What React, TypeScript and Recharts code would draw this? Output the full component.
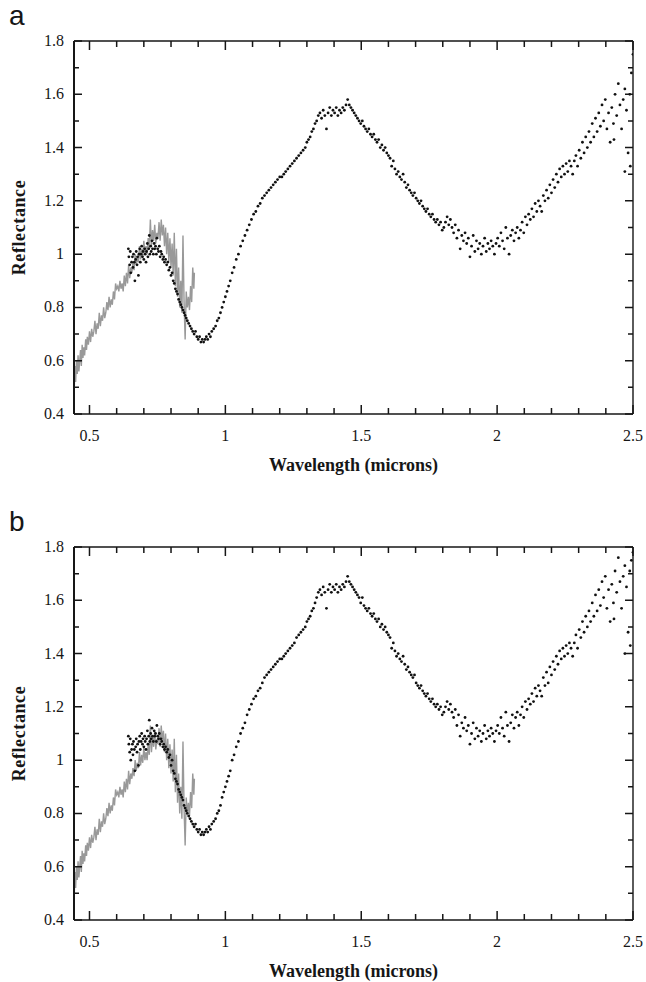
import React from 'react'
import { ComposedChart, Scatter, Line, XAxis, YAxis, ReferenceLine } from 'recharts'

// wavelength (microns) of the measured spectrum points, shared by both panels
const DOT_WAVE = [
  0.643, 0.645, 0.648, 0.65, 0.652, 0.655, 0.658, 0.66, 0.662, 0.665, 0.667, 0.67, 0.672, 0.675, 0.677, 0.68, 0.682, 0.685, 0.687, 0.69,
  0.692, 0.695, 0.697, 0.7, 0.703, 0.705, 0.708, 0.71, 0.713, 0.715, 0.718, 0.72, 0.722, 0.725, 0.727, 0.73, 0.732, 0.735, 0.738, 0.74,
  0.743, 0.746, 0.748, 0.751, 0.754, 0.757, 0.76, 0.763, 0.766, 0.77, 0.773, 0.776, 0.78, 0.784, 0.788, 0.792, 0.796, 0.8, 0.804, 0.808,
  0.812, 0.816, 0.82, 0.824, 0.828, 0.832, 0.836, 0.84, 0.844, 0.848, 0.852, 0.856, 0.86, 0.865, 0.87, 0.875, 0.88, 0.885, 0.89, 0.895,
  0.9, 0.905, 0.91, 0.915, 0.92, 0.925, 0.93, 0.935, 0.94, 0.945, 0.95, 0.957, 0.964, 0.97, 0.976, 0.982, 0.988, 0.994, 1.0, 1.006,
  1.012, 1.018, 1.025, 1.032, 1.04, 1.048, 1.056, 1.064, 1.072, 1.08, 1.088, 1.096, 1.104, 1.112, 1.12, 1.128, 1.136, 1.144, 1.152, 1.16,
  1.168, 1.176, 1.184, 1.192, 1.2, 1.208, 1.215, 1.222, 1.23, 1.238, 1.246, 1.254, 1.262, 1.27, 1.278, 1.286, 1.294, 1.3, 1.306, 1.312,
  1.318, 1.324, 1.33, 1.336, 1.342, 1.348, 1.354, 1.36, 1.366, 1.372, 1.378, 1.384, 1.39, 1.396, 1.402, 1.408, 1.414, 1.42, 1.426, 1.432,
  1.438, 1.444, 1.45, 1.456, 1.462, 1.468, 1.474, 1.48, 1.486, 1.492, 1.498, 1.504, 1.51, 1.516, 1.522, 1.528, 1.534, 1.54, 1.546, 1.552,
  1.558, 1.564, 1.57, 1.576, 1.582, 1.588, 1.594, 1.6, 1.606, 1.612, 1.618, 1.624, 1.63, 1.636, 1.642, 1.648, 1.654, 1.66, 1.666, 1.672,
  1.678, 1.684, 1.69, 1.696, 1.702, 1.708, 1.714, 1.72, 1.726, 1.732, 1.738, 1.744, 1.75, 1.756, 1.762, 1.768, 1.774, 1.78, 1.786, 1.792,
  1.798, 1.804, 1.81, 1.816, 1.822, 1.828, 1.834, 1.84, 1.846, 1.852, 1.858, 1.864, 1.87, 1.876, 1.882, 1.888, 1.894, 1.9, 1.906, 1.912,
  1.918, 1.924, 1.93, 1.936, 1.942, 1.948, 1.954, 1.96, 1.966, 1.972, 1.978, 1.984, 1.99, 1.996, 2.002, 2.008, 2.014, 2.02, 2.026, 2.032,
  2.038, 2.044, 2.05, 2.056, 2.062, 2.068, 2.074, 2.08, 2.086, 2.092, 2.098, 2.104, 2.11, 2.116, 2.122, 2.128, 2.134, 2.14, 2.146, 2.152,
  2.158, 2.164, 2.17, 2.176, 2.182, 2.188, 2.194, 2.2, 2.206, 2.212, 2.218, 2.224, 2.23, 2.236, 2.242, 2.248, 2.254, 2.26, 2.266, 2.272,
  2.278, 2.284, 2.29, 2.296, 2.302, 2.308, 2.314, 2.32, 2.326, 2.332, 2.338, 2.344, 2.35, 2.356, 2.362, 2.368, 2.374, 2.38, 2.386, 2.392,
  2.398, 2.404, 2.41, 2.416, 2.422, 2.428, 2.434, 2.44, 2.446, 2.452, 2.458, 2.464, 2.47, 2.476, 2.482, 2.488, 2.494, 2.5, 2.49, 2.47,
  2.43,
]

// panel a reflectance
const REFL_A = [
  1.02, 0.99, 0.96, 1.01, 0.93, 0.97, 0.99, 0.95, 1.0, 0.97, 0.9, 0.98, 1.01, 0.96, 0.99, 0.92, 1.0, 1.02, 0.97, 1.0,
  1.03, 0.99, 1.01, 0.98, 1.02, 1.0, 0.97, 1.01, 1.04, 0.99, 1.02, 1.07, 1.0, 1.03, 1.01, 1.05, 1.02, 1.0, 1.04, 1.02,
  1.03, 1.0, 1.06, 1.02, 1.01, 1.03, 0.99, 1.01, 1.0, 0.98, 0.99, 0.97, 0.98, 0.96, 0.97, 0.94, 0.95, 0.92, 0.93, 0.9,
  0.89, 0.87, 0.86, 0.85, 0.83, 0.82, 0.81, 0.8, 0.79, 0.78, 0.77, 0.76, 0.75, 0.74, 0.73, 0.72, 0.71, 0.7, 0.71, 0.69,
  0.68, 0.69, 0.67, 0.68, 0.67, 0.68, 0.69, 0.68, 0.7, 0.69, 0.71, 0.72, 0.73, 0.75, 0.76, 0.78, 0.8, 0.82, 0.84, 0.86,
  0.88, 0.9, 0.93, 0.95, 0.98, 1.0, 1.03, 1.05, 1.07, 1.09, 1.11, 1.13, 1.15, 1.16, 1.18, 1.19, 1.21, 1.22, 1.23, 1.24,
  1.25, 1.26, 1.27, 1.28, 1.29, 1.29, 1.3, 1.31, 1.32, 1.33, 1.34, 1.35, 1.36, 1.37, 1.38, 1.39, 1.4, 1.42, 1.43, 1.44,
  1.46, 1.47, 1.49, 1.5, 1.52, 1.53, 1.51, 1.54, 1.52, 1.47, 1.53, 1.55, 1.52, 1.54, 1.53, 1.55, 1.52, 1.54, 1.53, 1.55,
  1.54, 1.56, 1.58, 1.56, 1.55, 1.54, 1.53, 1.52, 1.51, 1.5, 1.49, 1.5, 1.48, 1.47, 1.46, 1.47, 1.45, 1.44, 1.45, 1.43,
  1.42, 1.43, 1.4, 1.41, 1.39, 1.4, 1.38, 1.37, 1.36, 1.33, 1.35, 1.32, 1.3, 1.31, 1.29, 1.28, 1.3, 1.27, 1.25, 1.26,
  1.24, 1.23, 1.22, 1.23, 1.21, 1.2, 1.19, 1.2, 1.18, 1.17, 1.16, 1.17, 1.15, 1.14, 1.15, 1.13, 1.12, 1.13, 1.11, 1.12,
  1.09, 1.1, 1.12, 1.14, 1.11, 1.13, 1.1, 1.08, 1.11, 1.06, 1.09, 1.02, 1.07, 1.05, 1.08, 1.04, 1.06, 0.99, 1.03, 1.07,
  1.01, 1.05, 1.02, 1.04, 1.0, 1.03, 1.06, 1.01, 1.04, 1.02, 1.05, 1.03, 1.0, 1.04, 1.06, 1.03, 1.08, 1.05, 1.02, 1.1,
  1.06, 1.0, 1.07, 1.09, 1.05, 1.08, 1.1, 1.06, 1.09, 1.12, 1.08, 1.14, 1.11, 1.15, 1.13, 1.17, 1.14, 1.19, 1.16, 1.2,
  1.18, 1.16, 1.22, 1.2, 1.24, 1.21, 1.26, 1.23, 1.28, 1.25, 1.3, 1.27, 1.32, 1.29, 1.33, 1.3, 1.34, 1.31, 1.35, 1.33,
  1.3, 1.35, 1.37, 1.33, 1.39, 1.36, 1.42, 1.38, 1.44, 1.4, 1.46, 1.42, 1.49, 1.44, 1.51, 1.46, 1.53, 1.48, 1.56, 1.5,
  1.58, 1.47, 1.53, 1.42, 1.55, 1.49, 1.6, 1.52, 1.64, 1.56, 1.47, 1.58, 1.62, 1.54, 1.38, 1.6, 1.68, 1.75, 1.33, 1.31,
  1.43,
]

// panel b reflectance
const REFL_B = [
  1.09, 1.06, 1.03, 1.08, 1.0, 1.04, 1.06, 1.02, 1.07, 1.04, 0.96, 1.05, 1.08, 1.03, 1.06, 0.98, 1.07, 1.09, 1.04, 1.07,
  1.1, 1.06, 1.08, 1.05, 1.09, 1.07, 1.04, 1.08, 1.11, 1.06, 1.09, 1.15, 1.07, 1.1, 1.08, 1.12, 1.09, 1.07, 1.11, 1.09,
  1.1, 1.07, 1.13, 1.09, 1.08, 1.1, 1.06, 1.08, 1.07, 1.05, 1.06, 1.04, 1.05, 1.03, 1.04, 1.01, 1.02, 0.98, 1.0, 0.96,
  0.95, 0.93, 0.92, 0.91, 0.89, 0.88, 0.87, 0.86, 0.85, 0.83, 0.82, 0.81, 0.8, 0.79, 0.78, 0.77, 0.76, 0.75, 0.76, 0.74,
  0.73, 0.74, 0.72, 0.73, 0.72, 0.73, 0.74, 0.73, 0.75, 0.74, 0.76, 0.77, 0.78, 0.8, 0.81, 0.83, 0.86, 0.88, 0.9, 0.92,
  0.94, 0.96, 1.0, 1.02, 1.05, 1.07, 1.1, 1.12, 1.14, 1.17, 1.19, 1.21, 1.23, 1.24, 1.26, 1.27, 1.29, 1.31, 1.32, 1.33,
  1.34, 1.35, 1.36, 1.37, 1.38, 1.38, 1.39, 1.4, 1.41, 1.42, 1.43, 1.44, 1.46, 1.47, 1.48, 1.49, 1.5, 1.52, 1.53, 1.54,
  1.56, 1.57, 1.59, 1.61, 1.63, 1.64, 1.62, 1.65, 1.63, 1.57, 1.64, 1.66, 1.63, 1.65, 1.64, 1.66, 1.63, 1.65, 1.64, 1.66,
  1.65, 1.67, 1.69, 1.67, 1.66, 1.65, 1.64, 1.63, 1.62, 1.61, 1.59, 1.61, 1.58, 1.57, 1.56, 1.57, 1.55, 1.54, 1.55, 1.53,
  1.52, 1.53, 1.5, 1.51, 1.49, 1.5, 1.48, 1.47, 1.46, 1.42, 1.44, 1.41, 1.39, 1.4, 1.38, 1.37, 1.39, 1.36, 1.34, 1.35,
  1.33, 1.32, 1.31, 1.32, 1.29, 1.28, 1.27, 1.28, 1.26, 1.25, 1.24, 1.25, 1.23, 1.22, 1.23, 1.21, 1.2, 1.21, 1.19, 1.2,
  1.17, 1.18, 1.2, 1.22, 1.19, 1.21, 1.18, 1.16, 1.19, 1.13, 1.17, 1.09, 1.14, 1.12, 1.16, 1.11, 1.13, 1.06, 1.1, 1.14,
  1.08, 1.12, 1.09, 1.11, 1.07, 1.1, 1.13, 1.08, 1.11, 1.09, 1.12, 1.1, 1.07, 1.11, 1.13, 1.1, 1.16, 1.12, 1.09, 1.18,
  1.13, 1.07, 1.14, 1.17, 1.12, 1.16, 1.18, 1.13, 1.17, 1.2, 1.16, 1.22, 1.19, 1.23, 1.21, 1.25, 1.22, 1.27, 1.24, 1.28,
  1.26, 1.24, 1.31, 1.28, 1.33, 1.29, 1.35, 1.32, 1.37, 1.34, 1.39, 1.36, 1.41, 1.38, 1.42, 1.39, 1.43, 1.4, 1.44, 1.42,
  1.39, 1.44, 1.47, 1.42, 1.49, 1.46, 1.52, 1.48, 1.54, 1.5, 1.56, 1.52, 1.59, 1.54, 1.62, 1.56, 1.64, 1.58, 1.67, 1.61,
  1.69, 1.57, 1.64, 1.52, 1.66, 1.59, 1.71, 1.63, 1.76, 1.67, 1.57, 1.69, 1.73, 1.65, 1.48, 1.71, 1.75, 1.78, 1.43, 1.4,
  1.53,
]

// telescopic spectrum (gray trace), same in both panels
const GRAY_WAVE = [
  0.443, 0.446, 0.449, 0.452, 0.455, 0.458, 0.461, 0.464, 0.467, 0.47, 0.473, 0.476, 0.479, 0.482, 0.486, 0.489, 0.492, 0.496, 0.5, 0.504,
  0.508, 0.512, 0.516, 0.52, 0.524, 0.528, 0.532, 0.536, 0.54, 0.544, 0.548, 0.552, 0.556, 0.56, 0.564, 0.568, 0.572, 0.576, 0.58, 0.584,
  0.588, 0.592, 0.596, 0.6, 0.604, 0.608, 0.612, 0.616, 0.62, 0.624, 0.628, 0.632, 0.636, 0.64, 0.644, 0.648, 0.652, 0.656, 0.66, 0.664,
  0.668, 0.672, 0.676, 0.68, 0.684, 0.688, 0.692, 0.696, 0.7, 0.704, 0.708, 0.712, 0.716, 0.72, 0.724, 0.728, 0.732, 0.736, 0.74, 0.744,
  0.748, 0.752, 0.756, 0.76, 0.764, 0.768, 0.772, 0.776, 0.78, 0.784, 0.788, 0.792, 0.796, 0.8, 0.804, 0.808, 0.812, 0.816, 0.82, 0.824,
  0.828, 0.832, 0.836, 0.84, 0.844, 0.848, 0.852, 0.856, 0.86, 0.864, 0.868, 0.872, 0.876, 0.88, 0.884, 0.886,
]
const GRAY_REFL = [
  0.45, 0.58, 0.52, 0.6, 0.55, 0.62, 0.56, 0.6, 0.64, 0.58, 0.66, 0.61, 0.65, 0.62, 0.68, 0.64, 0.69, 0.66, 0.71, 0.67,
  0.72, 0.69, 0.71, 0.75, 0.7, 0.74, 0.72, 0.78, 0.73, 0.77, 0.75, 0.8, 0.76, 0.78, 0.82, 0.79, 0.84, 0.8, 0.83, 0.81,
  0.86, 0.83, 0.89, 0.87, 0.88, 0.86, 0.9, 0.87, 0.89, 0.86, 0.92, 0.88, 0.93, 0.89, 0.96, 0.91, 0.95, 0.93, 0.97, 0.94,
  1.0, 0.96, 0.99, 0.97, 1.03, 0.98, 1.02, 0.99, 1.05, 1.0, 1.03, 1.0, 1.06, 1.02, 1.13, 1.03, 1.09, 1.05, 1.11, 1.04,
  1.08, 1.06, 1.12, 1.05, 1.13, 1.07, 1.11, 1.03, 1.1, 1.0, 1.08, 0.97, 1.06, 0.95, 1.04, 0.92, 1.08, 0.88, 1.02, 0.84,
  0.95, 0.8, 0.9, 0.78, 1.07, 0.82, 0.68, 0.86, 0.8, 0.84, 0.79, 0.88, 0.82, 0.95, 0.87, 0.93,
]

const X_TICKS = [0.5, 0.6, 0.7, 0.8, 0.9, 1, 1.1, 1.2, 1.3, 1.4, 1.5, 1.6, 1.7, 1.8, 1.9, 2, 2.1, 2.2, 2.3, 2.4, 2.5]
const Y_TICKS = [0.4, 0.5, 0.6, 0.7, 0.8, 0.9, 1, 1.1, 1.2, 1.3, 1.4, 1.5, 1.6, 1.7, 1.8]
const X_DOMAIN: [number, number] = [0.443, 2.5]
const Y_DOMAIN: [number, number] = [0.4, 1.8]

const W = 646
const H = 476
const MARGIN = { top: 41, right: 13, bottom: 0, left: 0 }
const Y_AXIS_W = 74
const X_AXIS_H = 62
const PLOT_L = MARGIN.left + Y_AXIS_W
const PLOT_T = MARGIN.top
const PLOT_W = W - MARGIN.left - MARGIN.right - Y_AXIS_W
const PLOT_H = H - MARGIN.top - MARGIN.bottom - X_AXIS_H
const SERIF = 'Liberation Serif, Times New Roman, serif'
const INK = '#161616'

const isMajorX = (v: number) => Math.round(v * 10) % 5 === 0
const isMajorY = (v: number) => Math.round(v * 10) % 2 === 0

const grayData = GRAY_WAVE.map((w, i) => ({ w, r: GRAY_REFL[i] }))

function XTick(props: any) {
  const { x, y, payload } = props
  const v = payload.value
  if (!isMajorX(v)) return <g />
  return (
    <text x={x} y={y + 27} textAnchor="middle" style={{ fontFamily: SERIF, fontSize: 16, fill: INK }}>
      {String(v)}
    </text>
  )
}

function YTick(props: any) {
  const { x, y, payload } = props
  const v = payload.value
  if (!isMajorY(v)) return <g />
  return (
    <text x={x - 10} y={y + 5} textAnchor="end" style={{ fontFamily: SERIF, fontSize: 16, fill: INK }}>
      {String(v)}
    </text>
  )
}

const Dot = (props: any) => <circle cx={props.cx} cy={props.cy} r={1.4} fill="#111" />

// inward tick marks on all four sides of the frame, laid over the chart
function TickOverlay() {
  const px = (v: number) => PLOT_L + ((v - X_DOMAIN[0]) / (X_DOMAIN[1] - X_DOMAIN[0])) * PLOT_W
  const py = (v: number) => PLOT_T + ((Y_DOMAIN[1] - v) / (Y_DOMAIN[1] - Y_DOMAIN[0])) * PLOT_H
  const bottom = PLOT_T + PLOT_H
  const right = PLOT_L + PLOT_W
  let d = ''
  X_TICKS.forEach((v) => {
    const x = px(v)
    const len = isMajorX(v) ? 9 : 6
    d += `M${x},${bottom}V${bottom - len}M${x},${PLOT_T}V${PLOT_T + len}`
  })
  Y_TICKS.forEach((v) => {
    const y = py(v)
    const len = isMajorY(v) ? 8 : 5
    d += `M${PLOT_L},${y}H${PLOT_L + len}M${right},${y}H${right - len}`
  })
  return (
    <svg width={W} height={H} style={{ position: 'absolute', left: 0, top: 0, pointerEvents: 'none' }}>
      <path d={d} stroke={INK} strokeWidth={1.5} fill="none" />
    </svg>
  )
}

function Panel({ letter, refl, top }: { letter: string; refl: number[]; top: number }) {
  const dots = DOT_WAVE.map((w, i) => ({ w, r: refl[i] }))
  return (
    <div style={{ position: 'absolute', left: 0, top, width: W, height: H }}>
      <ComposedChart width={W} height={H} margin={MARGIN}>
        <XAxis
          xAxisId="x"
          type="number"
          dataKey="w"
          domain={X_DOMAIN}
          ticks={X_TICKS}
          interval={0}
          allowDataOverflow
          height={X_AXIS_H}
          tickSize={0}
          tickMargin={0}
          tickLine={false}
          tick={<XTick />}
          axisLine={{ stroke: INK, strokeWidth: 1.4 }}
          label={{
            value: 'Wavelength (microns)',
            position: 'insideBottom',
            offset: 5,
            style: { fontFamily: SERIF, fontWeight: 'bold', fontSize: 18, fill: INK },
          }}
        />
        <YAxis
          yAxisId="y"
          type="number"
          dataKey="r"
          domain={Y_DOMAIN}
          ticks={Y_TICKS}
          interval={0}
          allowDataOverflow
          width={Y_AXIS_W}
          tickSize={0}
          tickMargin={0}
          tickLine={false}
          tick={<YTick />}
          axisLine={{ stroke: INK, strokeWidth: 2 }}
          label={{
            value: 'Reflectance',
            angle: -90,
            position: 'insideLeft',
            offset: 19,
            style: { textAnchor: 'middle', fontFamily: SERIF, fontWeight: 'bold', fontSize: 18, letterSpacing: 0.6, fill: INK },
          }}
        />
        <ReferenceLine xAxisId="x" yAxisId="y" y={Y_DOMAIN[1]} stroke={INK} strokeWidth={1.4} />
        <ReferenceLine xAxisId="x" yAxisId="y" x={X_DOMAIN[1]} stroke={INK} strokeWidth={1.4} />
        <Line
          xAxisId="x"
          yAxisId="y"
          data={grayData}
          dataKey="r"
          type="linear"
          stroke="#999"
          strokeWidth={1.4}
          dot={false}
          isAnimationActive={false}
        />
        <Scatter xAxisId="x" yAxisId="y" data={dots} dataKey="r" shape={Dot} isAnimationActive={false} />
      </ComposedChart>
      <TickOverlay />
      <div
        style={{
          position: 'absolute',
          left: 9,
          top: 2,
          fontFamily: 'Liberation Sans, Arial, sans-serif',
          fontSize: 28,
          lineHeight: '28px',
          color: INK,
        }}
      >
        {letter}
      </div>
    </div>
  )
}

export default function App() {
  return (
    <div style={{ position: 'absolute', left: 0, top: 0, width: W, height: 982, background: '#fff' }}>
      <Panel letter="a" refl={REFL_A} top={0} />
      <Panel letter="b" refl={REFL_B} top={506} />
    </div>
  )
}
